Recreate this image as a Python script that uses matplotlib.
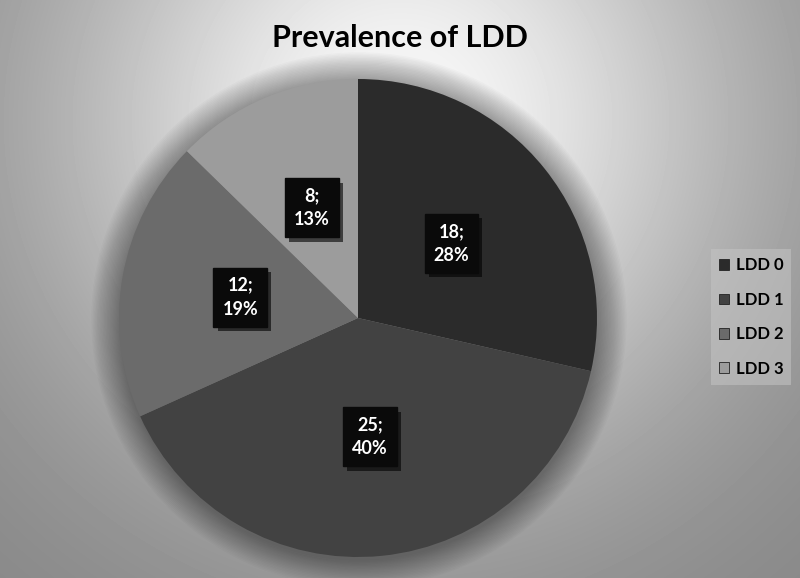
import numpy as np
import matplotlib
matplotlib.use("Agg")
import matplotlib.pyplot as plt
import matplotlib.patheffects as pe
from matplotlib.patches import Circle

categories = ["LDD 0", "LDD 1", "LDD 2", "LDD 3"]
values = [18, 25, 12, 8]
percents = ["28%", "40%", "19%", "13%"]
colors = ["#2b2b2b", "#424242", "#6b6b6b", "#9c9c9c"]
title = "Prevalence of LDD"

W, H = 800, 578
fig = plt.figure(figsize=(W / 100, H / 100), dpi=100)

# background radial gradient
bg = fig.add_axes([0, 0, 1, 1], zorder=0)
yy, xx = np.mgrid[0:H, 0:W]
d = np.hypot(xx - 400, yy - 120)
b = 0.52 + 0.45 * np.exp(-(d / 350.0) ** 2)
bg.imshow(b, cmap="gray", vmin=0, vmax=1, extent=[0, W, H, 0], aspect="auto")
bg.set_xlim(0, W)
bg.set_ylim(H, 0)
bg.axis("off")

cx, cy, R = 358, 318, 239
ax = fig.add_axes([(cx - R) / W, (H - cy - R) / H, 2 * R / W, 2 * R / H], zorder=1)
ax.set_facecolor("none")

# soft shadow around pie
n = 20
for i in range(n):
    r = 1.0 + 0.006 * (n - i)
    ax.add_patch(Circle((0.004, -0.008), r, color="black", alpha=0.018, lw=0,
                        zorder=0, clip_on=False))

wedges, texts = ax.pie(
    values, colors=colors, startangle=90, counterclock=False,
    labels=[f"{v};\n{p}" for v, p in zip(values, percents)],
    labeldistance=0.5, radius=1.0,
    wedgeprops=dict(linewidth=0),
    textprops=dict(color="white", fontsize=13, fontfamily="Lato", fontweight="bold",
                   ha="center", va="center", linespacing=1.5),
)
for w in wedges:
    w.set_zorder(2)
for t in texts:
    t.set_zorder(5)
    t.set_bbox(dict(boxstyle="square,pad=0.5", facecolor="#0a0a0a", edgecolor="#0a0a0a"))
    t.get_bbox_patch().set_path_effects([pe.withSimplePatchShadow(offset=(3, -3), alpha=0.6, shadow_rgbFace="black")])
ax.set_xlim(-1, 1)
ax.set_ylim(-1, 1)
ax.set_aspect("equal")
ax.axis("off")

fig.text(400 / W, 1 - 38 / H, title, ha="center", va="center", fontsize=22,
         fontfamily="Lato", fontweight="bold", color="black")

leg = fig.legend(wedges, categories, loc="center", bbox_to_anchor=(751 / W, 1 - 317 / H),
                 frameon=True, fancybox=False, handlelength=0.6, handleheight=0.6,
                 handletextpad=0.4, labelspacing=1.1, borderpad=0.5,
                 prop=dict(family="Lato", weight="bold", size=12))
leg.get_frame().set_facecolor("#c4c4c4")
leg.get_frame().set_alpha(0.55)
leg.get_frame().set_edgecolor("none")
for h in leg.legend_handles:
    h.set_edgecolor("#222222")
    h.set_linewidth(0.6)

fig.savefig("out.png", dpi=100)
